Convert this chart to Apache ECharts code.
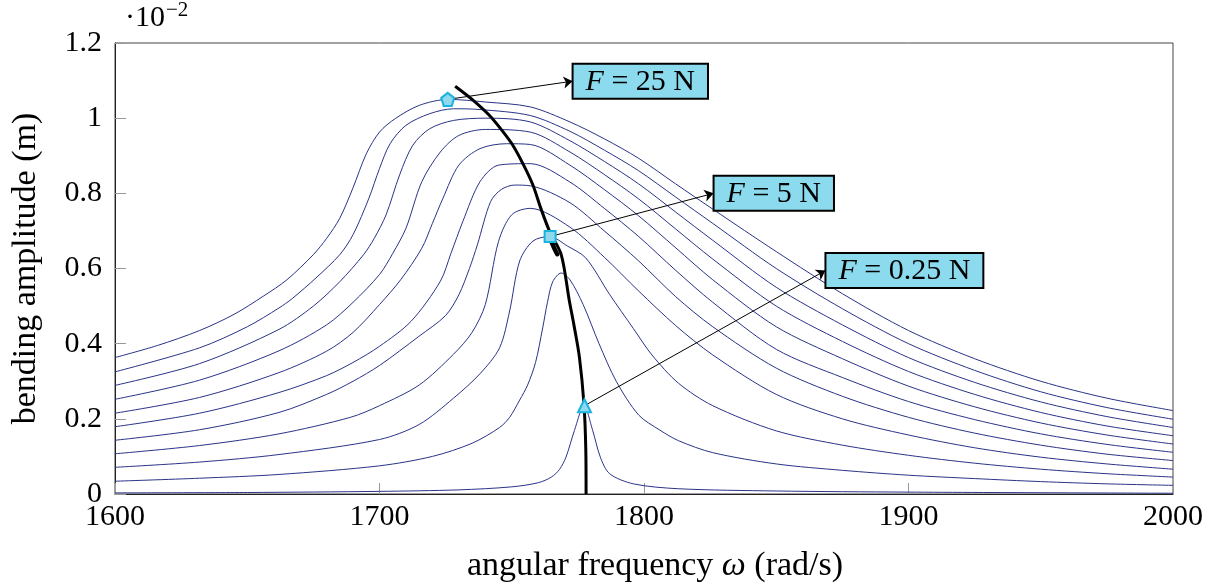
<!DOCTYPE html>
<html><head><meta charset="utf-8">
<script src="https://cdn.jsdelivr.net/npm/echarts@6/dist/echarts.min.js"></script>
<style>html,body{margin:0;padding:0;background:#fff}#c{width:1211px;height:588px}</style>
</head><body><div id="c"></div><script>
// ---- data ----
const xTicks = [1600, 1700, 1800, 1900, 2000];
const yTicks = [0, 0.2, 0.4, 0.6, 0.8, 1, 1.2];
const forcesN = [25, 22.5, 20, 17.5, 15, 12.5, 10, 7.5, 5, 2.5, 0.25];

const curveF25 = [[1600,.363],[1616,.395],[1632,.435],[1645,.478],[1656,.526],[1665,.57],[1675,.637],[1680,.68],[1685,.734],[1690,.815],[1695,.905],[1700,.963],[1706,.999],[1715,1.034],[1726,1.05],[1740,1.043],[1757,1.03],[1772,.99],[1785,.945],[1798,.893],[1812,.825],[1826,.758],[1850,.645],[1875,.533],[1900,.435],[1925,.36],[1950,.30],[1975,.255],[2000,.222]];
const curveF22_5 = [[1600,.325],[1632,.389],[1650,.445],[1662,.495],[1667,.52],[1676,.575],[1685,.637],[1690,.69],[1696,.787],[1700,.866],[1704,.932],[1710,.981],[1719,1.012],[1728,1.025],[1738,1.023],[1757,1.007],[1772,.965],[1785,.915],[1798,.86],[1812,.79],[1826,.72],[1850,.60],[1875,.493],[1900,.40],[1925,.329],[1950,.272],[1975,.23],[2000,.199]];
const curveF20 = [[1600,.289],[1632,.347],[1662,.438],[1675,.50],[1685,.565],[1694,.637],[1698,.68],[1702.5,.743],[1707.6,.849],[1712.6,.928],[1719,.972],[1728,.994],[1740,1.0],[1757,.99],[1772,.94],[1785,.885],[1798,.825],[1812,.75],[1826,.675],[1850,.55],[1875,.45],[1900,.363],[1925,.297],[1950,.245],[1975,.206],[2000,.177]];
const curveF17_5 = [[1600,.252],[1632,.303],[1662,.381],[1680,.45],[1690,.51],[1700,.584],[1705,.64],[1710,.707],[1716,.831],[1723,.91],[1730,.954],[1740,.97],[1757,.963],[1772,.91],[1785,.85],[1798,.785],[1812,.705],[1826,.625],[1850,.50],[1875,.406],[1900,.326],[1925,.265],[1950,.217],[1975,.181],[2000,.155]];
const curveF15 = [[1600,.215],[1632,.257],[1662,.323],[1680,.38],[1690,.43],[1700,.504],[1708,.57],[1716,.654],[1720,.72],[1724,.787],[1730,.875],[1738,.919],[1748,.932],[1757,.93],[1772,.875],[1785,.81],[1798,.74],[1812,.655],[1826,.57],[1850,.445],[1875,.36],[1900,.287],[1925,.232],[1950,.189],[1975,.157],[2000,.133]];
const curveF12_5 = [[1600,.179],[1632,.215],[1662,.27],[1680,.315],[1690,.35],[1700,.393],[1712,.46],[1723,.566],[1727,.64],[1731.5,.725],[1738,.831],[1745,.875],[1757,.879],[1772,.83],[1785,.76],[1798,.685],[1812,.595],[1826,.51],[1850,.385],[1875,.31],[1900,.246],[1925,.198],[1950,.16],[1975,.132],[2000,.111]];
const curveF10 = [[1600,.143],[1632,.171],[1662,.217],[1680,.265],[1690,.30],[1700,.342],[1715,.42],[1725,.475],[1730,.53],[1734,.60],[1737,.663],[1742,.778],[1746,.81],[1751,.822],[1757,.82],[1772,.775],[1785,.70],[1798,.62],[1812,.525],[1826,.445],[1850,.335],[1875,.26],[1900,.204],[1925,.162],[1950,.13],[1975,.106],[2000,.089]];
const curveF7_5 = [[1600,.107],[1632,.129],[1662,.16],[1689,.204],[1700,.235],[1715,.29],[1728,.372],[1735,.43],[1740,.504],[1745,.672],[1750,.743],[1757,.760],[1772,.71],[1785,.63],[1798,.54],[1812,.448],[1826,.37],[1850,.265],[1875,.20],[1900,.157],[1925,.123],[1950,.098],[1975,.08],[2000,.066]];
const curveF5 = [[1600,.071],[1632,.085],[1662,.105],[1700,.145],[1715,.185],[1728,.255],[1738,.32],[1745.4,.389],[1749.2,.487],[1753,.62],[1758,.673],[1764.3,.685],[1771,.66],[1778,.628],[1787,.531],[1796,.44],[1803,.37],[1813,.295],[1826,.235],[1850,.168],[1875,.13],[1900,.103],[1925,.082],[1950,.066],[1975,.054],[2000,.045]];
const curveF2_5 = [[1600,.034],[1632,.042],[1662,.052],[1700,.075],[1720,.10],[1735,.135],[1745.4,.177],[1749.2,.204],[1753,.25],[1756,.29],[1759,.35],[1761.7,.442],[1763.5,.51],[1765.5,.565],[1768.7,.588],[1772,.57],[1777,.504],[1783,.40],[1789.5,.30],[1798,.21],[1806,.17],[1813,.142],[1826,.11],[1850,.08],[1875,.063],[1900,.05],[1925,.041],[1950,.033],[1975,.027],[2000,.023]];
const curveF0_25 = [[1600,.003],[1650,.004],[1700,.007],[1730,.011],[1750,.019],[1760,.03],[1765,.045],[1768,.065],[1770.5,.098],[1773.7,.169],[1777.3,.235],[1780.6,.169],[1783.5,.098],[1787,.054],[1796,.027],[1813,.014],[1850,.008],[1900,.005],[2000,.002]];
const backbone = [[1778.1,0],[1778,0.117],[1777.3,0.239],[1775.6,0.363],[1773.5,0.45],[1771.8,0.513],[1768.7,0.637],[1764.3,0.699],[1761,0.76],[1758,0.822],[1754.5,0.875],[1750.4,0.928],[1746,0.97],[1741.6,1.007],[1735,1.05],[1728.6,1.085]];
const backboneKink = [[1764.6,0.678],[1766,0.655],[1767.2,0.638]];

const markerPoints = [[1725.8, 1.05], [1764.5, 0.685], [1777.5, 0.235]];
const labelAnchors = [[1773, 1.0985], [1826.3, 0.800], [1868.6, 0.5947]];
const labelForces = ['25', '5', '0.25'];

// ---- chart ----
const FONT = "'Liberation Serif', 'DejaVu Serif', serif";
const NAVY = '#2a3388';
const PENTA = 'path://M0,-1 L0.951,-0.309 L0.588,0.809 L-0.588,0.809 L-0.951,-0.309 Z';
const symbols = [PENTA, 'rect', 'triangle'];
const symbolSizes = [13, 11, 13];

const curves = [curveF25, curveF22_5, curveF20, curveF17_5, curveF15, curveF12_5, curveF10, curveF7_5, curveF5, curveF2_5, curveF0_25];

const series = curves.map((d, i) => ({
  name: 'F = ' + forcesN[i] + ' N', type: 'line', data: d, showSymbol: false,
  smooth: 0.3, silent: true, z: 2,
  lineStyle: { color: NAVY, width: 1 }
}));

series.push({
  type: 'line', data: backboneKink, showSymbol: false, smooth: true, silent: true, z: 4,
  lineStyle: { color: '#000', width: 4.5, cap: 'round' }
});

series.push({
  type: 'line', data: backbone, showSymbol: false, smooth: 0.3, silent: true, z: 4,
  lineStyle: { color: '#000', width: 3 },
  markLine: {
    silent: true, symbol: ['none', 'arrow'], symbolSize: 9,
    lineStyle: { color: '#000', width: 1, type: 'solid' },
    label: { show: false },
    data: markerPoints.map((p, i) => [{ coord: p }, { coord: labelAnchors[i] }])
  },
  markPoint: {
    silent: true, symbol: 'circle', symbolSize: 0,
    data: labelAnchors.map((p, i) => ({
      coord: p,
      label: {
        show: true, position: 'right', distance: 1,
        formatter: '{i|F} = ' + labelForces[i] + ' N',
        fontFamily: FONT, fontSize: 30, color: '#000', lineHeight: 31,
        backgroundColor: '#8bdaee', borderColor: '#000', borderWidth: 2,
        padding: [2, 12, 0, 12],
        rich: { i: { fontStyle: 'italic', fontFamily: FONT, fontSize: 30, lineHeight: 31, color: '#000' } }
      }
    }))
  }
});

series.push({
  type: 'scatter', z: 6, silent: true,
  data: markerPoints.map((p, i) => ({ value: p, symbol: symbols[i], symbolSize: symbolSizes[i] })),
  itemStyle: { color: '#8fd8ee', borderColor: '#1ab3e0', borderWidth: 2, opacity: 1 }
});

const axisText = { fontFamily: FONT, fontSize: 30, color: '#000' };
const nameText = { fontFamily: FONT, fontSize: 34, color: '#000' };

const chart = echarts.init(document.getElementById('c'), null, { renderer: 'canvas' });
chart.setOption({
  animation: false,
  backgroundColor: '#fff',
  grid: { left: 115, right: 38, top: 43, bottom: 91, show: true, borderColor: '#444', borderWidth: 1, backgroundColor: 'transparent' },
  xAxis: {
    type: 'value', min: xTicks[0], max: xTicks[xTicks.length - 1], interval: 100,
    name: 'angular frequency {w|ω} (rad/s)', nameLocation: 'middle', nameGap: 55,
    nameTextStyle: { ...nameText, padding: [0, 0, 0, 22], rich: { w: { fontStyle: 'italic', fontFamily: FONT, fontSize: 34 } } },
    axisLine: { show: true, lineStyle: { color: '#222', width: 1 } },
    axisTick: { show: true, inside: true, length: 11, lineStyle: { color: '#999' } },
    axisLabel: { ...axisText, margin: 8, formatter: v => String(v) },
    splitLine: { show: false }
  },
  yAxis: {
    type: 'value', min: yTicks[0], max: yTicks[yTicks.length - 1], interval: 0.2,
    name: 'bending amplitude (m)', nameLocation: 'middle', nameGap: 72, nameRotate: 90,
    nameTextStyle: nameText,
    axisLine: { show: true, lineStyle: { color: '#222', width: 1 } },
    axisTick: { show: true, inside: true, length: 11, lineStyle: { color: '#999' } },
    axisLabel: { ...axisText, margin: 13, formatter: v => String(+v.toFixed(1)) },
    splitLine: { show: false }
  },
  graphic: [
    { type: 'text', left: 125, top: 3, style: { text: '·10', font: "30px " + FONT, fill: '#000' } },
    { type: 'text', left: 166, top: 0, style: { text: '−2', font: "21px " + FONT, fill: '#000' } }
  ],
  series: series
});
</script></body></html>
